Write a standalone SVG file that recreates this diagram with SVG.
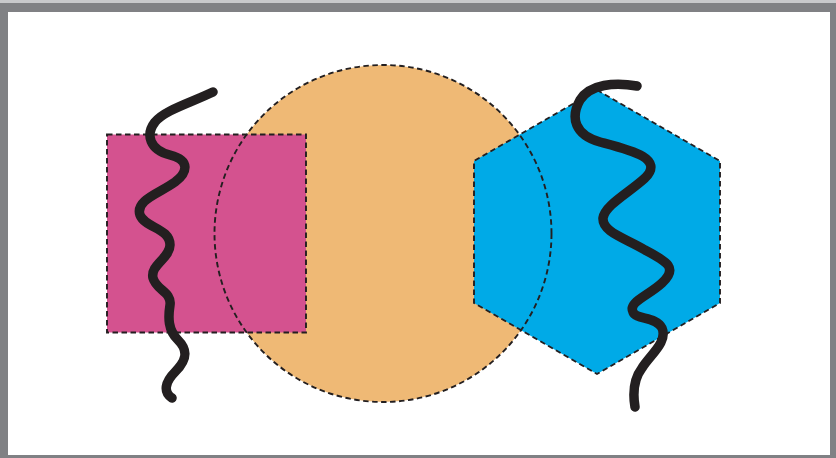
<svg xmlns="http://www.w3.org/2000/svg" width="836" height="458" viewBox="0 0 836 458">
  <style>
    .dash { fill: none; stroke: #231f20; stroke-width: 1.9; stroke-dasharray: 5.5 3.5; }
    .wave { fill: none; stroke: #231f20; stroke-width: 9.5; stroke-linecap: round; stroke-linejoin: round; }
  </style>
  <g id="frame">
    <rect x="0" y="0" width="836" height="458" fill="#c8c9cb"/>
    <rect x="0" y="3" width="836" height="455" fill="#808184"/>
    <rect x="8" y="12" width="822" height="443" fill="#ffffff"/>
  </g>
  <g id="circle">
    <circle cx="383" cy="233.5" r="168.5" fill="#efb975"/>
  </g>
  <g id="square">
    <rect x="107" y="134.5" width="199" height="198" class="dash" style="fill:#d4528f"/>
  </g>
  <g id="hexagon">
    <polygon points="597,90 720,161 720,303 597,374 474,303 474,161" class="dash" style="fill:#00aae7"/>
  </g>
  <g id="circle-outline">
    <circle cx="383" cy="233.5" r="168.5" class="dash"/>
  </g>
  <g id="connectors">
    <path class="wave" d="M213,92 C190,103 165,110 155,122 C145,135 150,150 170,155 C190,160 188,172 175,182 C160,193 135,200 140,215 C145,228 170,228 170,245 C170,258 150,265 153,278 C156,290 172,292 170,305 C168,318 168,330 178,340 C190,352 185,362 175,372 C165,382 163,392 172,398"/>
    <path class="wave" d="M637,86 C615,82 590,84 580,100 C570,118 575,135 600,142 C630,150 665,158 645,178 C630,192 605,205 603,218 C602,232 625,238 645,250 C668,262 678,268 662,283 C648,296 628,302 633,312 C636,320 656,316 662,328 C668,342 650,355 642,368 C633,380 633,395 635,407"/>
  </g>
</svg>
